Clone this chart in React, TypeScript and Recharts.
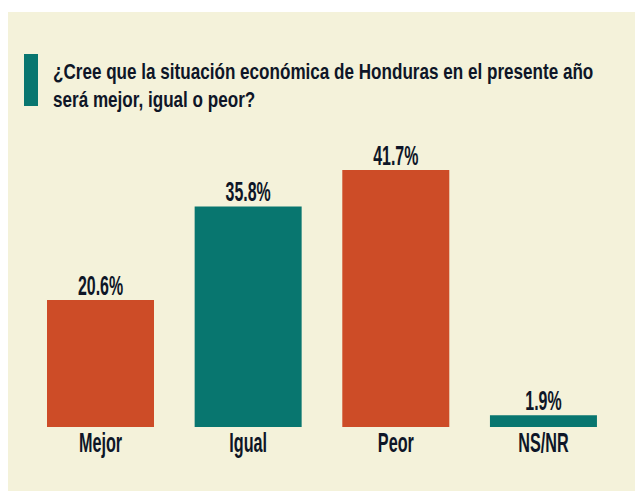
import { BarChart, Bar, XAxis, YAxis, Cell, LabelList } from 'recharts'

const categories = ['Mejor', 'Igual', 'Peor', 'NS/NR']
const percentages = [20.6, 35.8, 41.7, 1.9]
const barColors = ['#cd4c27', '#08766f', '#cd4c27', '#08766f']
const titleLines = [
  '¿Cree que la situación económica de Honduras en el presente año',
  'será mejor, igual o peor?',
]

const data = categories.map((name, i) => ({ name, value: percentages[i] }))

const FONT = '"Liberation Sans Narrow", "Liberation Sans", Arial, sans-serif'
const INK = '#0e1627'

function ValueLabel(props: any) {
  const { x, y, width, value } = props
  const cx = x + width / 2
  const cy = y - 5
  return (
    <text
      transform={`translate(${cx},${cy}) scale(0.59,1)`}
      textAnchor="middle"
      fontFamily={FONT}
      fontWeight="bold"
      fontSize={27}
      fill={INK}
    >
      {`${value}%`}
    </text>
  )
}

function CategoryTick(props: any) {
  const { x, y, payload } = props
  return (
    <text
      transform={`translate(${x},${y + 25}) scale(0.6,1)`}
      textAnchor="middle"
      fontFamily={FONT}
      fontWeight="bold"
      fontSize={27}
      fill={INK}
    >
      {payload.value}
    </text>
  )
}

export default function App() {
  return (
    <div style={{ position: 'absolute', left: 0, top: 0, width: 635, height: 491, background: '#ffffff', overflow: 'hidden' }}>
      <div style={{ position: 'absolute', left: 8, top: 12, width: 627, height: 479, background: '#f4f2da' }} />
      <svg width={635} height={130} style={{ position: 'absolute', left: 0, top: 0 }}>
        <rect x={24} y={54} width={14} height={52} fill="#08766f" />
        <text transform="translate(53,79) scale(0.76,1)" fontFamily={FONT} fontWeight="bold" fontSize={22.5} fill={INK}>
          {titleLines[0]}
        </text>
        <text transform="translate(53,107) scale(0.76,1)" fontFamily={FONT} fontWeight="bold" fontSize={22.5} fill={INK}>
          {titleLines[1]}
        </text>
      </svg>
      <div style={{ position: 'absolute', left: 0, top: 0 }}>
        <BarChart
          width={635}
          height={491}
          data={data}
          margin={{ top: 149.7, right: 17.7, bottom: 34, left: 26.7 }}
          barCategoryGap={20.3}
        >
          <XAxis
            dataKey="name"
            axisLine={false}
            tickLine={false}
            tickSize={0}
            tickMargin={0}
            height={30}
            interval={0}
            tick={<CategoryTick />}
          />
          <YAxis hide domain={[0, 45]} />
          <Bar dataKey="value" isAnimationActive={false}>
            {data.map((d, i) => (
              <Cell key={d.name} fill={barColors[i]} />
            ))}
            <LabelList dataKey="value" content={<ValueLabel />} />
          </Bar>
        </BarChart>
      </div>
    </div>
  )
}
